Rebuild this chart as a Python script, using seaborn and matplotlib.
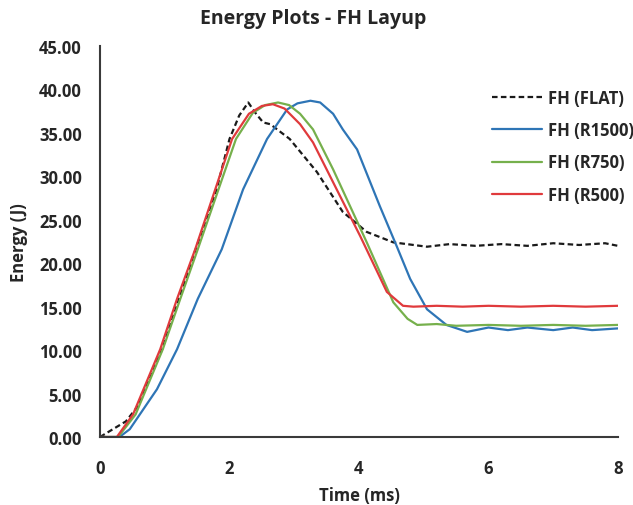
import numpy as np
import pandas as pd
import matplotlib
matplotlib.use("Agg")
import matplotlib.pyplot as plt
import seaborn as sns

# ---- data ----
series_names = ["FH (FLAT)", "FH (R1500)", "FH (R750)", "FH (R500)"]

t_flat = [0, 0.2, 0.4, 0.59, 0.96, 1.13, 1.44, 1.8, 2.0, 2.15, 2.29, 2.4, 2.52, 2.63,
          2.93, 3.35, 3.75, 4.12, 4.53, 5.05, 5.4, 5.8, 6.2, 6.6, 7.0, 7.4, 7.8, 8.0]
e_flat = [0, 0.9, 1.8, 3.6, 10.1, 13.9, 20.8, 28.5, 34.3, 37.0, 38.5, 37.3, 36.2, 36.0,
          34.3, 30.5, 25.9, 23.6, 22.4, 21.9, 22.2, 22.0, 22.2, 22.0, 22.3, 22.1, 22.3, 22.0]

t_r1500 = [0, 0.3, 0.46, 0.88, 1.19, 1.51, 1.88, 2.21, 2.58, 2.89, 3.05, 3.25, 3.4, 3.6,
           3.75, 3.97, 4.32, 4.58, 4.79, 5.05, 5.35, 5.67, 6.0, 6.3, 6.6, 7.0, 7.3, 7.6, 8.0]
e_r1500 = [0, 0, 0.9, 5.5, 10.1, 15.9, 21.6, 28.5, 34.3, 37.7, 38.4, 38.7, 38.5, 37.2,
           35.4, 33.1, 26.6, 22.0, 18.2, 14.7, 12.9, 12.1, 12.6, 12.3, 12.6, 12.3, 12.6, 12.3, 12.5]

t_r750 = [0, 0.28, 0.55, 0.97, 1.24, 1.51, 1.83, 2.1, 2.36, 2.55, 2.75, 2.92, 3.09, 3.29,
          3.6, 4.12, 4.53, 4.75, 4.9, 5.2, 5.5, 6.0, 6.5, 7.0, 7.5, 8.0]
e_r750 = [0, 0, 2.6, 10.1, 15.9, 21.6, 28.5, 34.3, 37.3, 38.2, 38.5, 38.2, 37.2, 35.4,
          30.8, 22.4, 15.5, 13.6, 12.9, 13.0, 12.8, 12.9, 12.8, 12.9, 12.8, 12.9]

t_r500 = [0, 0.26, 0.51, 0.93, 1.19, 1.47, 1.78, 2.04, 2.3, 2.5, 2.67, 2.85, 3.09, 3.29,
          3.5, 4.02, 4.43, 4.68, 4.84, 5.2, 5.6, 6.0, 6.5, 7.0, 7.5, 8.0]
e_r500 = [0, 0, 2.6, 10.1, 15.9, 21.6, 28.5, 34.3, 37.2, 38.1, 38.3, 37.8, 36.0, 33.9,
          30.8, 23.1, 16.7, 15.1, 15.0, 15.1, 15.0, 15.1, 15.0, 15.1, 15.0, 15.1]

x_ticks = [0, 2, 4, 6, 8]
y_ticks = [0, 5, 10, 15, 20, 25, 30, 35, 40, 45]

frames = []
for name, t, e in zip(series_names, [t_flat, t_r1500, t_r750, t_r500],
                      [e_flat, e_r1500, e_r750, e_r500]):
    frames.append(pd.DataFrame({"Time": t, "Energy": e, "Series": name}))
df = pd.concat(frames, ignore_index=True)

# ---- style ----
sns.set_theme(style="white")
plt.rcParams["font.family"] = ["Open Sans", "DejaVu Sans"]
plt.rcParams["font.weight"] = "bold"

palette = {"FH (FLAT)": "#1a1a1a", "FH (R1500)": "#2e75b6",
           "FH (R750)": "#76b04c", "FH (R500)": "#e03a3c"}
dashes = {"FH (FLAT)": (2.5, 1.5), "FH (R1500)": "", "FH (R750)": "", "FH (R500)": ""}

fig = plt.figure(figsize=(6.33, 5.06), dpi=100)
ax = fig.add_axes([100 / 633, 68 / 506, 518 / 633, 391 / 506])

sns.lineplot(data=df, x="Time", y="Energy", hue="Series", style="Series",
             hue_order=series_names, style_order=series_names,
             palette=palette, dashes=dashes, estimator=None, sort=False,
             linewidth=1.6, legend=False, ax=ax)
for ln in ax.get_lines():
    ln.set_solid_joinstyle("round")
    ln.set_dash_joinstyle("round")

ax.set_xlim(0, 8)
ax.set_ylim(0, 45)
ax.set_xticks(x_ticks)
ax.set_xticklabels([str(v) for v in x_ticks])
ax.set_yticks(y_ticks)
ax.set_yticklabels([f"{v:.2f}" for v in y_ticks])
ax.tick_params(axis="both", length=0, labelsize=12, colors="#262626")
ax.tick_params(axis="x", pad=16)
ax.tick_params(axis="y", pad=13)
for lab in ax.get_xticklabels() + ax.get_yticklabels():
    lab.set_fontweight("bold")

for s in ["top", "right"]:
    ax.spines[s].set_visible(False)
for s in ["left", "bottom"]:
    ax.spines[s].set_color("#3a3a3a")
    ax.spines[s].set_linewidth(1.5)

ax.set_xlabel("Time (ms)", fontsize=12, fontweight="bold", color="#262626", labelpad=6)
ax.set_ylabel("Energy (J)", fontsize=12, fontweight="bold", color="#262626", labelpad=8)
fig.text(0.5 * (200 + 427) / 633, 1 - 19 / 506, "Energy Plots - FH Layup",
         ha="center", va="center", fontsize=14, fontweight="bold", color="#262626")

lines = ax.get_lines()
leg = ax.legend(lines[:4], series_names, loc="upper left",
                bbox_to_anchor=((492 - 100) / 518, (438 - 90) / 391),
                frameon=False, fontsize=12, handlelength=3.0, handletextpad=0.35,
                labelspacing=0.85, borderpad=0, borderaxespad=0)
for txt in leg.get_texts():
    txt.set_fontweight("bold")
    txt.set_color("#262626")

fig.savefig("out.png", dpi=100)
